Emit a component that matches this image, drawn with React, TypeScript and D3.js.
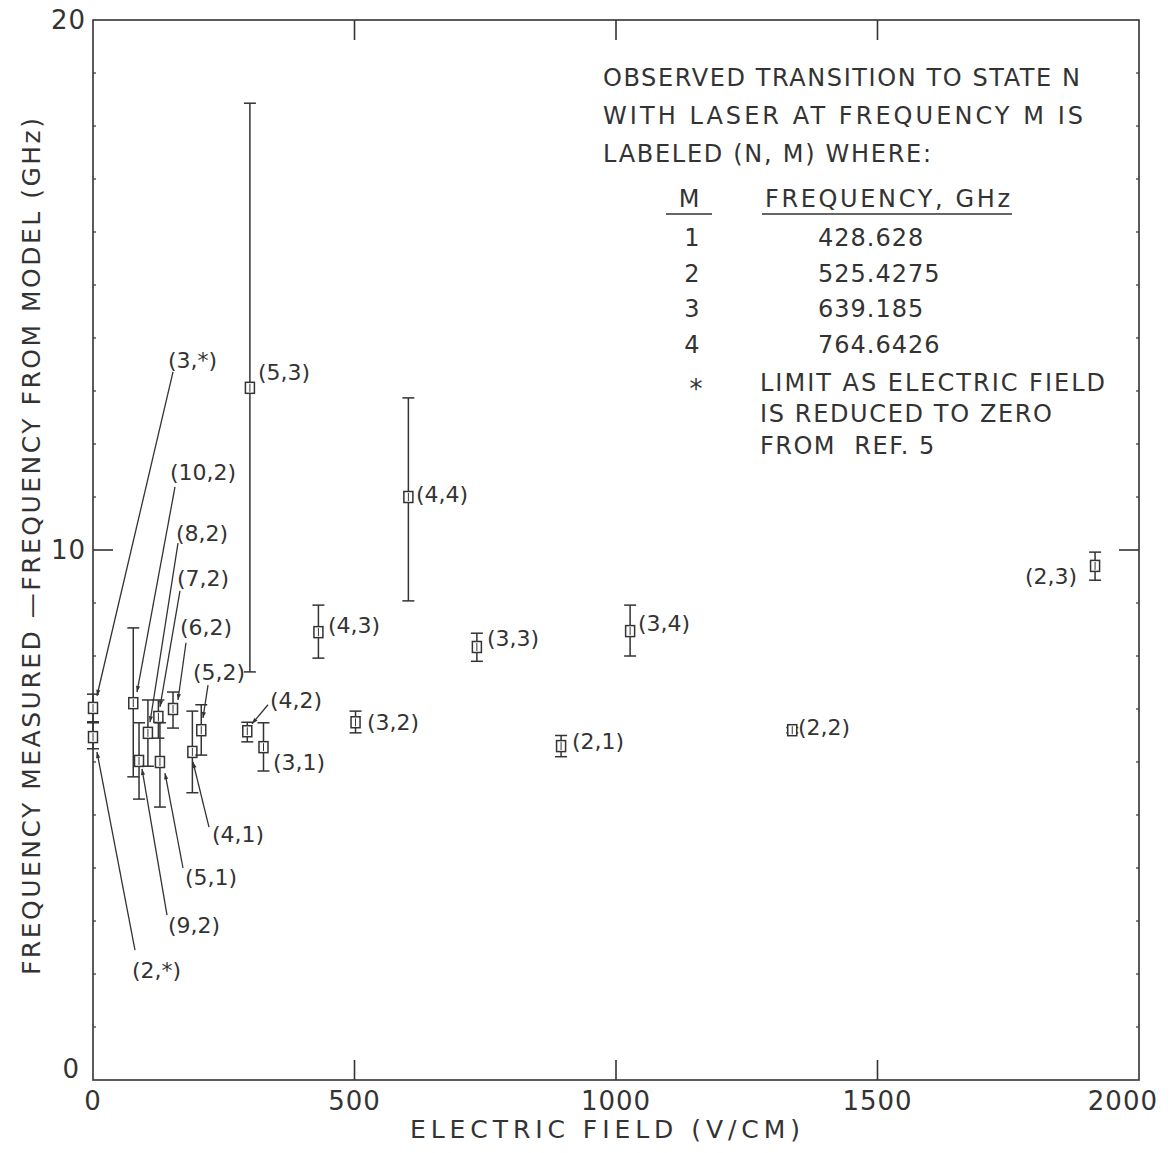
import React from "react";
import * as d3 from "d3";

// ---- data ----
const labels = ["(2,*)", "(3,*)", "(10,2)", "(9,2)", "(8,2)", "(7,2)", "(5,1)", "(6,2)", "(4,1)", "(5,2)", "(4,2)", "(5,3)", "(3,1)", "(4,3)", "(3,2)", "(4,4)", "(3,3)", "(2,1)", "(3,4)", "(2,2)", "(2,3)"];
const fieldVcm = [0, 0, 77, 88, 105, 125, 128, 153, 190, 207, 295, 300, 326, 431, 502, 603, 734, 895, 1027, 1337, 1916];
const deltaGHz = [6.47, 7.02, 7.11, 6.02, 6.55, 6.85, 6.0, 7.0, 6.19, 6.6, 6.58, 13.06, 6.28, 8.45, 6.75, 11.0, 8.17, 6.3, 8.47, 6.6, 9.7];
const errLow = [6.25, 6.76, 5.72, 5.30, 5.92, 6.45, 5.15, 6.64, 5.42, 6.13, 6.38, 7.7, 5.83, 7.96, 6.55, 9.04, 7.9, 6.1, 8.0, 6.55, 9.43];
const errHigh = [6.74, 7.28, 8.53, 6.74, 7.17, 7.17, 6.74, 7.32, 6.96, 7.08, 6.75, 18.43, 6.74, 8.96, 6.96, 12.87, 8.43, 6.5, 8.96, 6.65, 9.96];
// label anchor (data units)
const labelX = [74.6, 143.4, 147.2, 143.4, 158.7, 160.6, 175.9, 166.3, 227.5, 191.2, 338.4, 315.5, 344.2, 449.3, 523.9, 617.6, 753.3, 915.9, 1042, 1348, 1782];
const labelY = [2.08, 13.58, 11.47, 2.92, 10.32, 9.47, 3.83, 8.55, 4.64, 7.70, 7.17, 13.36, 6.0, 8.58, 6.75, 11.06, 8.34, 6.4, 8.62, 6.66, 9.51];
// leader lines (data units): start x,y -> end x,y ; null = no leader
const leaderFrom: ([number, number] | null)[] = [[80.3, 2.45], [153, 13.36], [156.8, 11.19], [141.5, 3.11], [162.5, 10.13], [166.3, 9.23], [172.1, 4.0], [177.8, 8.25], [221.8, 4.77], [219.9, 7.45], [334.6, 7.08], null, null, null, null, null, null, null, null, null, null];
const leaderTo: ([number, number] | null)[] = [[7.6, 6.19], [7.6, 7.25], [84.1, 7.32], [93.7, 5.87], [109, 6.75], [128.1, 7.04], [137.7, 5.79], [162.5, 7.17], [191.2, 6.0], [210.3, 6.83], [304, 6.72], null, null, null, null, null, null, null, null, null, null];

const xTicks = [0, 500, 1000, 1500, 2000];
const yTickLabels = [0, 10, 20];
const yMinor = d3.range(1, 20);

const legendHead = ["OBSERVED TRANSITION TO STATE N", "WITH LASER AT FREQUENCY M IS", "LABELED (N, M) WHERE:"];
const legendM = ["1", "2", "3", "4"];
const legendFreq = ["428.628", "525.4275", "639.185", "764.6426"];
const legendNote = ["LIMIT AS ELECTRIC FIELD", "IS REDUCED TO ZERO", "FROM  REF. 5"];

const W = 1174, H = 1153;
const INK = "#333";
const FONT = "'DejaVu Sans', 'Liberation Sans', sans-serif";

export default function App() {
  const x = d3.scaleLinear().domain([0, 2000]).range([93, 1139]);
  const y = d3.scaleLinear().domain([0, 20]).range([1080, 20]);
  const [x0, x1] = x.range();
  const [y0, y1] = y.range();
  const tl = 20;

  return (
    <svg width={W} height={H} style={{ display: "block", position: "absolute", left: 0, top: 0, background: "#fff" }} fontFamily={FONT}>
      <defs>
        <marker id="arr" viewBox="0 0 10 10" refX="10" refY="5" markerWidth="10" markerHeight="6" orient="auto" markerUnits="userSpaceOnUse">
          <path d="M0,1.5 L10,5 L0,8.5 z" fill={INK} />
        </marker>
      </defs>
      {/* frame */}
      <rect x={x0} y={y1} width={x1 - x0} height={y0 - y1} fill="none" stroke={INK} strokeWidth={1.6} />
      {/* x ticks top/bottom */}
      {xTicks.slice(1, -1).map((t) => (
        <g key={"xt" + t}>
          <line x1={x(t)} x2={x(t)} y1={y0} y2={y0 - tl} stroke={INK} strokeWidth={1.6} />
          <line x1={x(t)} x2={x(t)} y1={y1} y2={y1 + tl} stroke={INK} strokeWidth={1.6} />
        </g>
      ))}
      {/* y major tick at 10 */}
      <line x1={x0} x2={x0 + tl} y1={y(10)} y2={y(10)} stroke={INK} strokeWidth={1.6} />
      <line x1={x1} x2={x1 - tl} y1={y(10)} y2={y(10)} stroke={INK} strokeWidth={1.6} />
      {/* y minor ticks */}
      {yMinor.filter((v) => v !== 10).map((v) => (
        <g key={"ym" + v}>
          <line x1={x0} x2={x0 + 3} y1={y(v)} y2={y(v)} stroke={INK} strokeWidth={1.2} />
          <line x1={x1} x2={x1 - 3} y1={y(v)} y2={y(v)} stroke={INK} strokeWidth={1.2} />
        </g>
      ))}
      {/* x tick labels */}
      {xTicks.map((t) => {
        const px = x(t);
        const last = t === 2000;
        return (
          <text key={"xl" + t} x={last ? 1158 : px} y={y0 + 30} textAnchor={last ? "end" : "middle"} fontSize={26} fill={INK} letterSpacing={1}>
            {t}
          </text>
        );
      })}
      {/* y tick labels */}
      {yTickLabels.map((t) => (
        <text key={"yl" + t} x={t === 0 ? 80 : 86} y={y(t) + (t === 0 ? -2 : 9)} textAnchor="end" fontSize={26} fill={INK} letterSpacing={1}>
          {t}
        </text>
      ))}
      {/* axis titles */}
      <text x={410} y={1138} fontSize={25} fill={INK} textLength={390} lengthAdjust="spacing">ELECTRIC FIELD (V/CM)</text>
      <text transform="translate(40,975) rotate(-90)" x={0} y={0} fontSize={25} fill={INK} textLength={857} lengthAdjust="spacing">
        FREQUENCY MEASURED —FREQUENCY FROM MODEL (GHz)
      </text>

      {/* leaders */}
      {labels.map((l, i) => {
        const f = leaderFrom[i];
        const t = leaderTo[i];
        if (!f || !t) return null;
        return <line key={"ld" + i} x1={x(f[0])} y1={y(f[1])} x2={x(t[0])} y2={y(t[1])} stroke={INK} strokeWidth={1.3} markerEnd="url(#arr)" />;
      })}

      {/* error bars & markers */}
      {labels.map((l, i) => {
        const cx = x(fieldVcm[i]);
        const cy = y(deltaGHz[i]);
        const lo = y(errLow[i]);
        const hi = y(errHigh[i]);
        return (
          <g key={"pt" + i} stroke={INK} strokeWidth={1.5} fill="none">
            <line x1={cx} x2={cx} y1={hi} y2={lo} />
            <line x1={cx - 6} x2={cx + 6} y1={hi} y2={hi} />
            <line x1={cx - 6} x2={cx + 6} y1={lo} y2={lo} />
            <rect x={cx - 4.5} y={cy - 5.5} width={9} height={11} fill="#fff" />
            <line x1={cx} x2={cx} y1={cy - 4} y2={cy + 4} strokeWidth={1} />
          </g>
        );
      })}

      {/* point labels */}
      {labels.map((l, i) => (
        <text key={"lb" + i} x={x(labelX[i])} y={y(labelY[i]) + 8} fontSize={22} fill={INK}>
          {l}
        </text>
      ))}

      {/* legend */}
      <g fill={INK}>
        <text x={603} y={86} fontSize={24} textLength={477} lengthAdjust="spacing">{legendHead[0]}</text>
        <text x={603} y={124} fontSize={24} textLength={480} lengthAdjust="spacing">{legendHead[1]}</text>
        <text x={603} y={162} fontSize={24} textLength={328} lengthAdjust="spacing">{legendHead[2]}</text>
        <text x={689} y={207} fontSize={24} textAnchor="middle">M</text>
        <text x={765} y={207} fontSize={24} textLength={245} lengthAdjust="spacing">FREQUENCY, GHz</text>
        <line x1={666} x2={712} y1={214} y2={214} stroke={INK} strokeWidth={1.5} />
        <line x1={762} x2={1012} y1={214} y2={214} stroke={INK} strokeWidth={1.5} />
        {legendM.map((m, i) => (
          <g key={"lg" + i}>
            <text x={692} y={246 + i * 35.5} fontSize={24} textAnchor="middle">{m}</text>
            <text x={818} y={246 + i * 35.5} fontSize={24} letterSpacing={1}>{legendFreq[i]}</text>
          </g>
        ))}
        <text x={696} y={398} fontSize={26} textAnchor="middle">*</text>
        <text x={760} y={391} fontSize={24} textLength={345} lengthAdjust="spacing">{legendNote[0]}</text>
        <text x={760} y={422} fontSize={24} textLength={292} lengthAdjust="spacing">{legendNote[1]}</text>
        <text x={760} y={454} fontSize={24} style={{ whiteSpace: "pre" }} letterSpacing={1.5}>{legendNote[2]}</text>
      </g>
    </svg>
  );
}
